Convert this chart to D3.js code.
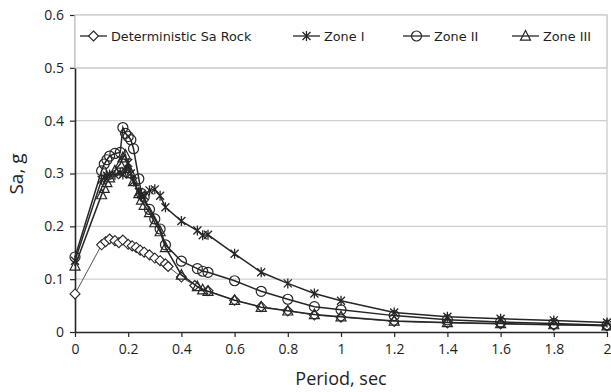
<!DOCTYPE html>
<html><head><meta charset="utf-8">
<script src="https://cdn.jsdelivr.net/npm/d3@7"></script>
<style>html,body{margin:0;padding:0;background:#fff;}svg{display:block;}</style>
</head><body>
<svg id="c" width="611" height="392"></svg>
<script>
const xTicks = [0,0.2,0.4,0.6,0.8,1,1.2,1.4,1.6,1.8,2];
const yTicks = [0,0.1,0.2,0.3,0.4,0.5,0.6];
const seriesNames = ["Deterministic Sa Rock","Zone I","Zone II","Zone III"];

const detPeriod = [0,0.1,0.115,0.13,0.15,0.165,0.18,0.2,0.215,0.23,0.245,0.26,0.28,0.3,0.32,0.34,0.35,0.4,0.45,0.5,0.6,0.7,0.8,0.9,1.0,1.2,1.4,1.6,1.8,2.0];
const detSa     = [0.072,0.165,0.171,0.176,0.173,0.169,0.174,0.166,0.163,0.160,0.155,0.151,0.146,0.140,0.135,0.129,0.124,0.104,0.088,0.078,0.060,0.048,0.040,0.032,0.028,0.020,0.017,0.015,0.013,0.012];

const zonePeriod = [0,0.1,0.11,0.12,0.13,0.15,0.17,0.18,0.19,0.2,0.21,0.22,0.24,0.25,0.26,0.28,0.3,0.32,0.34,0.4,0.46,0.48,0.5,0.6,0.7,0.8,0.9,1.0,1.2,1.4,1.6,1.8,2.0];
const zone1Sa = [0.135,0.288,0.293,0.296,0.298,0.297,0.302,0.298,0.305,0.32,0.30,0.285,0.265,0.26,0.258,0.268,0.27,0.258,0.236,0.21,0.192,0.183,0.184,0.148,0.113,0.092,0.073,0.059,0.037,0.029,0.025,0.022,0.018];
const zone2Sa = [0.142,0.305,0.318,0.326,0.333,0.338,0.340,0.387,0.376,0.370,0.364,0.347,0.29,0.262,0.255,0.232,0.214,0.195,0.165,0.134,0.120,0.115,0.113,0.097,0.077,0.062,0.048,0.042,0.031,0.023,0.019,0.016,0.013];
const zone3Sa = [0.125,0.26,0.272,0.283,0.292,0.305,0.318,0.33,0.335,0.31,0.30,0.285,0.262,0.25,0.24,0.226,0.207,0.19,0.16,0.108,0.086,0.08,0.077,0.06,0.047,0.040,0.033,0.029,0.021,0.018,0.016,0.014,0.012];

const svg = d3.select("#c");
const L = 75, R = 607, T = 15, B = 332;
const x = d3.scaleLinear().domain([0,2]).range([L,R]);
const y = d3.scaleLinear().domain([0,0.6]).range([B,T]);
const ink = "#262626";

// gridlines
svg.append("g").selectAll("line").data(yTicks.filter(d=>d>0)).join("line")
  .attr("x1",L).attr("x2",R).attr("y1",d=>y(d)).attr("y2",d=>y(d))
  .attr("stroke","#cfcfcf").attr("stroke-width",1.4);
// right border
svg.append("line").attr("x1",R).attr("x2",R).attr("y1",T).attr("y2",B).attr("stroke","#cfcfcf").attr("stroke-width",1.4);

// axes
const fmt = d=> String(d);
const xAxis = svg.append("g").attr("transform",`translate(0,${B})`)
  .call(d3.axisBottom(x).tickValues(xTicks).tickFormat(fmt).tickSize(5).tickSizeOuter(0).tickPadding(7));
const yAxis = svg.append("g").attr("transform",`translate(${L},0)`)
  .call(d3.axisLeft(y).tickValues(yTicks).tickFormat(fmt).tickSize(5).tickSizeOuter(0).tickPadding(6));
[xAxis,yAxis].forEach(g=>{
  g.select(".domain").attr("stroke",ink).attr("stroke-width",1.6);
  g.selectAll(".tick line").attr("stroke",ink).attr("stroke-width",1.2);
  g.selectAll("text").attr("font-family","'Open Sans', sans-serif").attr("font-size",14).attr("fill","#1e1e1e");
});

// axis titles
svg.append("text").attr("x",341).attr("y",385).attr("text-anchor","middle")
  .attr("font-family","'Open Sans', sans-serif").attr("font-size",18).attr("fill","#1e1e1e").text("Period, sec");
svg.append("text").attr("transform","translate(23,174) rotate(-90)").attr("text-anchor","middle")
  .attr("font-family","'Open Sans', sans-serif").attr("font-size",19).attr("fill","#1e1e1e").text("Sa, g");

// marker shapes
function marker(g, type, cx, cy, s){
  if(type==="diamond"){
    g.append("path").attr("d",`M${cx},${cy-s}L${cx+s},${cy}L${cx},${cy+s}L${cx-s},${cy}Z`)
      .attr("fill","#fff").attr("stroke",ink).attr("stroke-width",1.1);
  } else if(type==="circle"){
    g.append("circle").attr("cx",cx).attr("cy",cy).attr("r",s)
      .attr("fill","none").attr("stroke",ink).attr("stroke-width",1.2);
  } else if(type==="triangle"){
    const h = s*1.1;
    g.append("path").attr("d",`M${cx},${cy-h}L${cx+s},${cy+h*0.75}L${cx-s},${cy+h*0.75}Z`)
      .attr("fill","none").attr("stroke",ink).attr("stroke-width",1.2);
  } else if(type==="star"){
    const d = s*0.8;
    g.append("path").attr("d",`M${cx},${cy-s}L${cx},${cy+s}M${cx-d},${cy-d}L${cx+d},${cy+d}M${cx-d},${cy+d}L${cx+d},${cy-d}`)
      .attr("fill","none").attr("stroke",ink).attr("stroke-width",1.3);
  }
}

const series = [
  {name:seriesNames[0], px:detPeriod, py:detSa, type:"diamond", w:1.0, col:"#555"},
  {name:seriesNames[1], px:zonePeriod, py:zone1Sa, type:"star", w:1.5, col:ink},
  {name:seriesNames[2], px:zonePeriod, py:zone2Sa, type:"circle", w:1.5, col:ink},
  {name:seriesNames[3], px:zonePeriod, py:zone3Sa, type:"triangle", w:1.5, col:ink},
];
const line = d3.line().x(d=>x(d[0])).y(d=>y(d[1]));
series.forEach(s=>{
  const pts = s.px.map((p,i)=>[p,s.py[i]]);
  const g = svg.append("g");
  g.append("path").attr("d",line(pts)).attr("fill","none").attr("stroke",s.col).attr("stroke-width",s.w);
  pts.forEach(p=>marker(g,s.type,x(p[0]),y(p[1]),5));
});

// legend
const lg = svg.append("g");
lg.append("rect").attr("x",L).attr("y",T).attr("width",R-L).attr("height",y(0.5)-T)
  .attr("fill","#fff").attr("stroke","#cfcfcf").attr("stroke-width",1.4);
const legX = [80, 293, 403, 512];
series.forEach((s,i)=>{
  const x0 = legX[i], cy = 36;
  lg.append("line").attr("x1",x0).attr("x2",x0+27).attr("y1",cy).attr("y2",cy).attr("stroke",ink).attr("stroke-width",1.3);
  marker(lg,s.type,x0+13.5,cy,5);
  lg.append("text").attr("x",x0+31).attr("y",cy+4.5).attr("font-family","'DejaVu Sans', Verdana, sans-serif")
    .attr("font-size",12.8).attr("fill","#1e1e1e").text(s.name);
});
</script>
</body></html>
